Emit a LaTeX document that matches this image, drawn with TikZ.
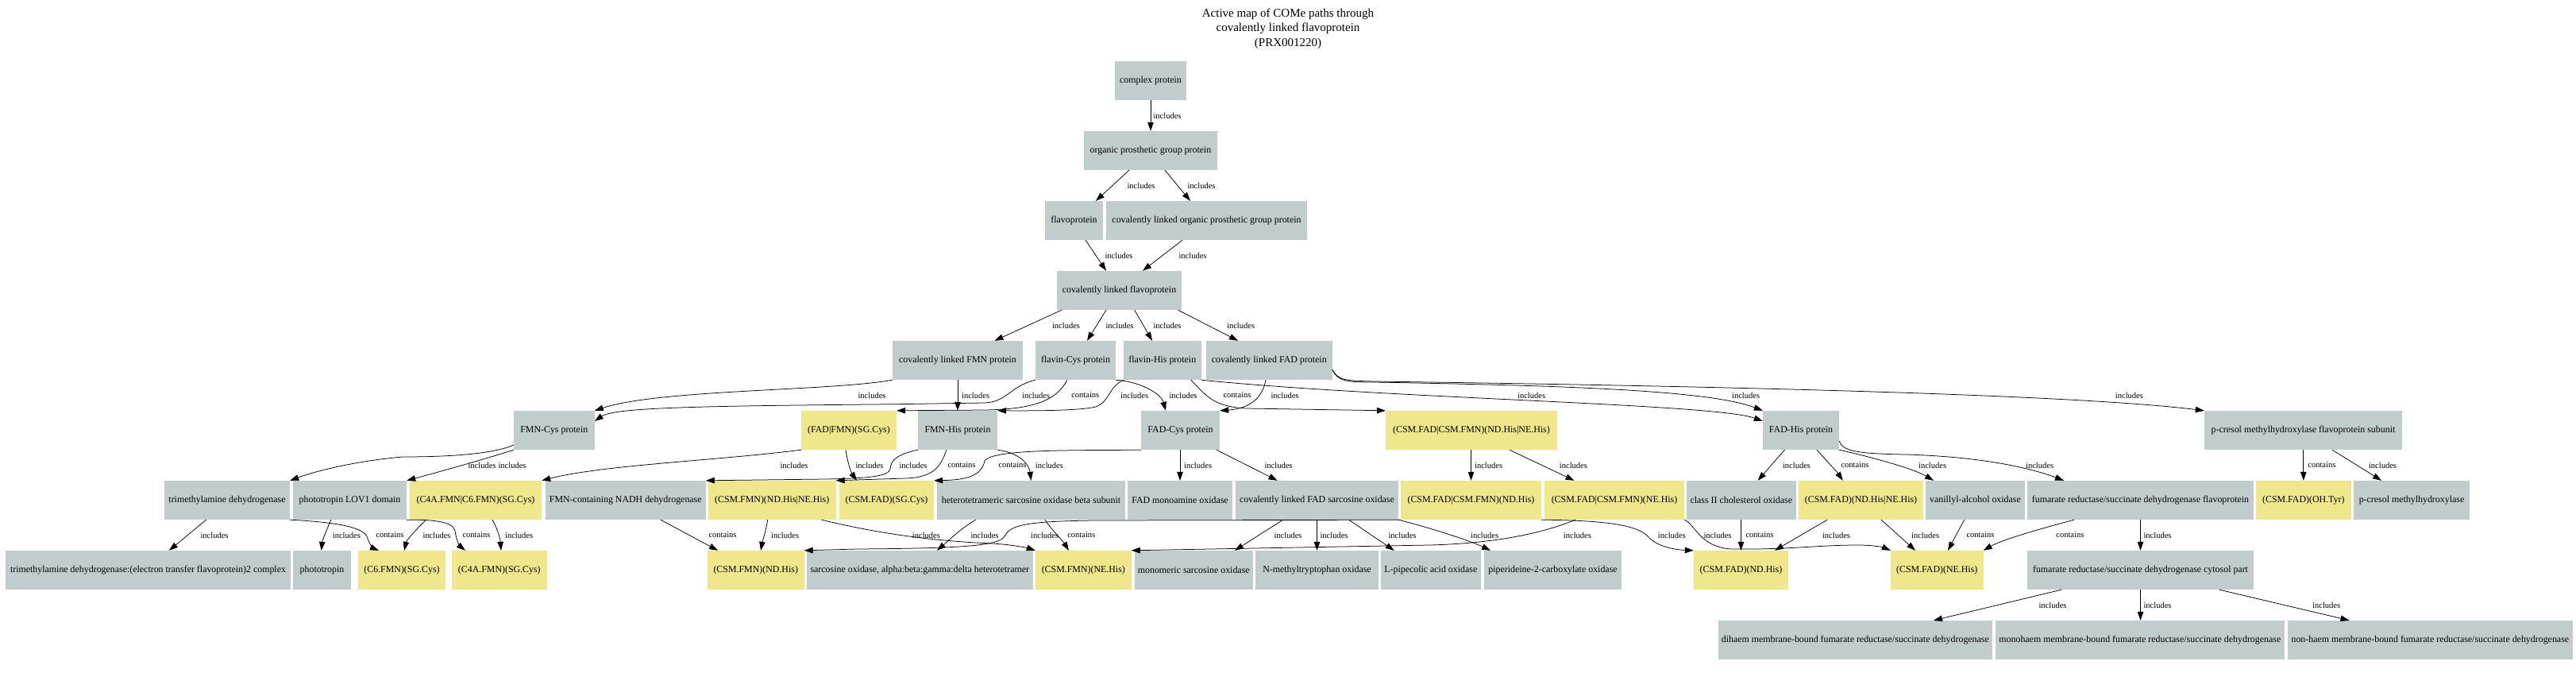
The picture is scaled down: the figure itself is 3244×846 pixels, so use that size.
\documentclass[tikz,border=0pt]{standalone}
\usepackage{fontspec}
\setmainfont{Liberation Serif}
\usetikzlibrary{arrows.meta}
\definecolor{gcol}{HTML}{C1CDCD}
\definecolor{ycol}{HTML}{F0E68C}
\newcommand\nfnt{\fontsize{11.9}{14}\selectfont}
\newcommand\lfnt{\fontsize{10.5}{12}\selectfont}
\begin{document}
\begin{tikzpicture}[x=1pt,y=-1pt,
  nd/.style={rectangle,inner sep=0pt,minimum height=49pt,font=\nfnt},
  gn/.style={nd,fill=gcol},
  yn/.style={nd,fill=ycol},
  edg/.style={draw=black,line width=0.75pt,-{Triangle[length=11pt,width=7.5pt]}},
  elab/.style={font=\lfnt,inner sep=0pt}]
\fill[white] (0,0) rectangle (3244,846);
\useasboundingbox (0,0) rectangle (3244,846);
\node[font=\fontsize{15}{18.5}\selectfont,align=center] (title) at (1622,36) {Active map of COMe paths through\\covalently linked flavoprotein\\(PRX001220)};
% row 0-3
\node[gn,minimum width=90pt] (cp) at (1449,101.5) {complex protein};
\node[gn,minimum width=168pt] (opg) at (1449,189.5) {organic prosthetic group protein};
\node[gn,minimum width=73pt] (fp) at (1352.5,277.5) {flavoprotein};
\node[gn,minimum width=253pt] (clopg) at (1519.5,277.5) {covalently linked organic prosthetic group protein};
\node[gn,minimum width=157pt] (clf) at (1409.5,365.5) {covalently linked flavoprotein};
% row 4
\node[gn,minimum width=164pt] (clFMN) at (1206,453.5) {covalently linked FMN protein};
\node[gn,minimum width=101pt] (fCys) at (1354.5,453.5) {flavin-Cys protein};
\node[gn,minimum width=97.5pt] (fHis) at (1463.75,453.5) {flavin-His protein};
\node[gn,minimum width=158.5pt] (clFAD) at (1598.25,453.5) {covalently linked FAD protein};
% row 5
\node[gn,minimum width=101.6pt] (FMNCys) at (697.8,541.5) {FMN-Cys protein};
\node[yn,minimum width=120pt] (FADFMNSG) at (1069,541.5) {(FAD|FMN)(SG.Cys)};
\node[gn,minimum width=100pt] (FMNHis) at (1206,541.5) {FMN-His protein};
\node[gn,minimum width=99pt] (FADCys) at (1486.5,541.5) {FAD-Cys protein};
\node[yn,minimum width=216pt] (CSMboth) at (1853,541.5) {(CSM.FAD|CSM.FMN)(ND.His|NE.His)};
\node[gn,minimum width=96pt] (FADHis) at (2268,541.5) {FAD-His protein};
\node[gn,minimum width=249pt] (pcs) at (2900.5,541.5) {p-cresol methylhydroxylase flavoprotein subunit};
% row 6
\node[gn,minimum width=158pt] (tmadh) at (286,629.5) {trimethylamine dehydrogenase};
\node[gn,minimum width=143pt] (lov1) at (440.5,629.5) {phototropin LOV1 domain};
\node[yn,minimum width=166pt] (c4ac6) at (599,629.5) {(C4A.FMN|C6.FMN)(SG.Cys)};
\node[gn,minimum width=201.6pt] (nadh) at (787.8,629.5) {FMN-containing NADH dehydrogenase};
\node[yn,minimum width=160.5pt] (csmfmnNN) at (972.25,629.5) {(CSM.FMN)(ND.His|NE.His)};
\node[yn,minimum width=119pt] (csmfadSG) at (1116.5,629.5) {(CSM.FAD)(SG.Cys)};
\node[gn,minimum width=237pt] (hetbeta) at (1298.5,629.5) {heterotetrameric sarcosine oxidase beta subunit};
\node[gn,minimum width=132pt] (fadmao) at (1486,629.5) {FAD monoamine oxidase};
\node[gn,minimum width=205pt] (clfadso) at (1658.5,629.5) {covalently linked FAD sarcosine oxidase};
\node[yn,minimum width=177pt] (bothND) at (1852.5,629.5) {(CSM.FAD|CSM.FMN)(ND.His)};
\node[yn,minimum width=176pt] (bothNE) at (2033,629.5) {(CSM.FAD|CSM.FMN)(NE.His)};
\node[gn,minimum width=138.4pt] (chol) at (2192.8,629.5) {class II cholesterol oxidase};
\node[yn,minimum width=157pt] (csmfadNN) at (2343.5,629.5) {(CSM.FAD)(ND.His|NE.His)};
\node[gn,minimum width=125pt] (van) at (2487.5,629.5) {vanillyl-alcohol oxidase};
\node[gn,minimum width=285pt] (frflavo) at (2695.5,629.5) {fumarate reductase/succinate dehydrogenase flavoprotein};
\node[yn,minimum width=119.6pt] (oht) at (2900.8,629.5) {(CSM.FAD)(OH.Tyr)};
\node[gn,minimum width=146pt] (pcm) at (3037,629.5) {p-cresol methylhydroxylase};
% row 7
\node[gn,minimum width=359pt] (tmcomplex) at (186.5,717.5) {trimethylamine dehydrogenase:(electron transfer flavoprotein)2 complex};
\node[gn,minimum width=73pt] (phot) at (405.5,717.5) {phototropin};
\node[yn,minimum width=110pt] (c6) at (506,717.5) {(C6.FMN)(SG.Cys)};
\node[yn,minimum width=119.6pt] (c4a) at (628.8,717.5) {(C4A.FMN)(SG.Cys)};
\node[yn,minimum width=121.5pt] (fmnND) at (951.75,717.5) {(CSM.FMN)(ND.His)};
\node[gn,minimum width=284.7pt] (hetero) at (1158.35,717.5) {sarcosine oxidase, alpha:beta:gamma:delta heterotetramer};
\node[yn,minimum width=120.6pt] (fmnNE) at (1364.3,717.5) {(CSM.FMN)(NE.His)};
\node[gn,minimum width=148.5pt] (monoso) at (1503.25,717.5) {monomeric sarcosine oxidase};
\node[gn,minimum width=155pt] (nmt) at (1658.5,717.5) {N-methyltryptophan oxidase};
\node[gn,minimum width=125.6pt] (lpa) at (1801.8,717.5) {L-pipecolic acid oxidase};
\node[gn,minimum width=173pt] (pip) at (1955.5,717.5) {piperideine-2-carboxylate oxidase};
\node[yn,minimum width=119pt] (fadND) at (2192.5,717.5) {(CSM.FAD)(ND.His)};
\node[yn,minimum width=116.5pt] (fadNE) at (2439.25,717.5) {(CSM.FAD)(NE.His)};
\node[gn,minimum width=285pt] (cyt) at (2695.5,717.5) {fumarate reductase/succinate dehydrogenase cytosol part};
% row 8
\node[gn,minimum width=344.6pt] (dih) at (2336.3,805.5) {dihaem membrane-bound fumarate reductase/succinate dehydrogenase};
\node[gn,minimum width=363.6pt] (mono) at (2694.8,805.5) {monohaem membrane-bound fumarate reductase/succinate dehydrogenase};
\node[gn,minimum width=358.6pt] (nonh) at (3060.3,805.5) {non-haem membrane-bound fumarate reductase/succinate dehydrogenase};
% edges rows 0-4
\draw[edg] (cp) -- (opg) node[elab] at (1470,145.5) {includes};
\draw[edg] ([xshift=-27pt]opg.south) -- ([xshift=27.5pt]fp.north) node[elab] at (1437,233.5) {includes};
\draw[edg] ([xshift=18pt]opg.south) -- ([xshift=-20.5pt]clopg.north) node[elab] at (1513,233.5) {includes};
\draw[edg] ([xshift=14.5pt]fp.south) -- ([xshift=-16.5pt]clf.north) node[elab] at (1409,321.5) {includes};
\draw[edg] ([xshift=-30.5pt]clopg.south) -- ([xshift=29.5pt]clf.north) node[elab] at (1502,321.5) {includes};
\draw[edg] ([xshift=-72.5pt]clf.south) -- ([xshift=46.5pt]clFMN.north) node[elab] at (1342.5,409.5) {includes};
\draw[edg] ([xshift=-16.5pt]clf.south) -- ([xshift=14.5pt]fCys.north) node[elab] at (1410,409.5) {includes};
\draw[edg] ([xshift=19.2pt]clf.south) -- ([xshift=-12.75pt]fHis.north) node[elab] at (1470,409.5) {includes};
\draw[edg] ([xshift=74pt]clf.south) -- ([xshift=-39.25pt]clFAD.north) node[elab] at (1562.6,409.5) {includes};
% edges rows 4-5
\draw[edg] (clFMN.south west) .. controls (1050,492) and (830,490) .. (FMNCys.north east) node[elab] at (1098,497.5) {includes};
\draw[edg] (clFMN.south) -- (FMNHis.north) node[elab] at (1228.6,497.5) {includes};
\draw[edg] (fCys.south west) .. controls (1272,486) and (1268,506) .. (1240,507) -- (1135,508.6) .. controls (900,511) and (775,512) .. ([yshift=11.5pt]FMNCys.east) node[elab] at (1304.6,497.5) {includes};
\draw[edg] ([xshift=-10.5pt]fCys.south) .. controls (1330,505) and (1300,515) .. (1240,516) -- (FADFMNSG.north east) node[elab] at (1366.8,497.5) {contains};
\draw[edg] (fHis.south west) .. controls (1395,488) and (1398,505) .. (1380,512) .. controls (1360,517) and (1300,517) .. (FMNHis.north east) node[elab] at (1428.6,497.5) {includes};
\draw[edg] (fCys.south east) .. controls (1435,480) and (1462,495) .. ([xshift=-18.5pt]FADCys.north) node[elab] at (1490,497.5) {includes};
\draw[edg] ([xshift=36.25pt]fHis.south) .. controls (1520,500) and (1530,512) .. (1570,514) -- (CSMboth.north west) node[elab] at (1558,497.5) {contains};
\draw[edg] ([xshift=-4.25pt]clFAD.south) .. controls (1590,500) and (1575,514) .. (FADCys.north east) node[elab] at (1618,497.5) {includes};
\draw[edg] (fHis.south east) .. controls (1750,502) and (2160,508) .. ([yshift=11.5pt]FADHis.west) node[elab] at (1928.6,497.5) {includes};
\draw[edg] ([yshift=-11.5pt]clFAD.east) .. controls (1685,480) and (1695,481) .. (1730,481) .. controls (1950,485) and (2150,490) .. (FADHis.north west) node[elab] at (2198.6,497.5) {includes};
\draw[edg] ([yshift=-11.5pt]clFAD.east) .. controls (1685,479) and (1695,479) .. (1730,480) .. controls (2100,485) and (2600,495) .. (pcs.north west) node[elab] at (2681.4,497.5) {includes};
% edges rows 5-6
\draw[edg] ([yshift=-18.5pt]FMNCys.west) .. controls (620,572) and (560,575) .. (507,575) .. controls (450,580) and (400,592) .. (tmadh.north east) node[elab] at (607,585.5) {includes};
\draw[edg] (FMNCys.south west) .. controls (620,575) and (560,592) .. (lov1.north east) node[elab] at (645,585.5) {includes};
\draw[edg] (FADFMNSG.south west) .. controls (900,580) and (760,585) .. (c4ac6.north east) node[elab] at (1000,585.5) {includes};
\draw[edg] ([xshift=-4pt]FADFMNSG.south) .. controls (1068,585) and (1072,595) .. ([xshift=-37.5pt]csmfadSG.north) node[elab] at (1095,585.5) {includes};
\draw[edg] (FMNHis.south west) .. controls (1128,572) and (1122,580) .. (1121,590) .. controls (1120,600) and (1090,602) .. (1040,603) -- (nadh.north east) node[elab] at (1150,585.5) {includes};
\draw[edg] ([xshift=-14pt]FMNHis.south) .. controls (1185,585) and (1178,601) .. (1140,602) -- (csmfmnNN.north east) node[elab] at (1211,585.5) {contains};
\draw[edg] (FADCys.south west) .. controls (1350,567) and (1250,565) .. (1240,580) .. controls (1236,600) and (1215,604) .. (csmfadSG.north east) node[elab] at (1275,585.5) {contains};
\draw[edg] (FMNHis.south east) .. controls (1285,570) and (1296,585) .. (hetbeta.north) node[elab] at (1321.4,585.5) {includes};
\draw[edg] (fadmao.north |- FADCys.south) -- (fadmao.north) node[elab] at (1508.6,585.5) {includes};
\draw[edg] ([xshift=45.5pt]FADCys.south) -- ([xshift=-49.9pt]clfadso.north) node[elab] at (1610,585.5) {includes};
\draw[edg] (bothND.north |- CSMboth.south) -- (bothND.north) node[elab] at (1874.6,585.5) {includes};
\draw[edg] ([xshift=48pt]CSMboth.south) -- ([xshift=-50.5pt]bothNE.north) node[elab] at (1981.4,585.5) {includes};
\draw[edg] ([xshift=-20.5pt]FADHis.south) .. controls (2235,580) and (2225,592) .. ([xshift=20.8pt]chol.north) node[elab] at (2262.5,585.5) {includes};
\draw[edg] ([xshift=20pt]FADHis.south) .. controls (2300,580) and (2312,592) .. ([xshift=-22.8pt]csmfadNN.north) node[elab] at (2336,585.5) {contains};
\draw[edg] (FADHis.south east) .. controls (2360,576) and (2410,590) .. ([xshift=-52.5pt]van.north) node[elab] at (2433.6,585.5) {includes};
\draw[edg] ([yshift=-13.5pt]FADHis.east) .. controls (2320,568) and (2340,571) .. (2400,572) .. controls (2500,575) and (2560,590) .. ([xshift=-96.5pt]frflavo.north) node[elab] at (2568.6,585.5) {includes};
\draw[edg] (oht.north |- pcs.south) -- (oht.north) node[elab] at (2923.8,585.5) {contains};
\draw[edg] ([xshift=36.5pt]pcs.south) -- ([xshift=-38pt]pcm.north) node[elab] at (3000.5,585.5) {includes};
% edges rows 6-7
\draw[edg] ([xshift=-26.4pt]tmadh.south) -- ([xshift=26.5pt]tmcomplex.north) node[elab] at (270,673.5) {includes};
\draw[edg] ([xshift=-23.7pt]lov1.south) .. controls (410,670) and (406,680) .. ([xshift=-0.9pt]phot.north) node[elab] at (436.4,673.5) {includes};
\draw[edg] (tmadh.south east) .. controls (400,656) and (455,660) .. (462,675) .. controls (465,685) and (470,690) .. ([xshift=-29pt]c6.north) node[elab] at (491,673.5) {contains};
\draw[edg] ([xshift=-62.2pt]c4ac6.south) .. controls (525,665) and (512,680) .. ([xshift=3pt]c6.north) node[elab] at (550,673.5) {includes};
\draw[edg] (lov1.south east) .. controls (545,654) and (570,656) .. (573,668) .. controls (575,682) and (580,688) .. ([xshift=-42.8pt]c4a.north) node[elab] at (600,673.5) {contains};
\draw[edg] ([xshift=21pt]c4ac6.south) .. controls (628,668) and (630,680) .. ([xshift=2.2pt]c4a.north) node[elab] at (653.6,673.5) {includes};
\draw[edg] ([xshift=44.2pt]nadh.south) -- ([xshift=-47.75pt]fmnND.north) node[elab] at (910,673.5) {contains};
\draw[edg] ([xshift=-5.45pt]csmfmnNN.south) .. controls (964,670) and (960,682) .. ([xshift=6.25pt]fmnND.north) node[elab] at (988.6,673.5) {includes};
\draw[edg] ([xshift=62.35pt]csmfmnNN.south) .. controls (1080,665) and (1150,680) .. (1250,684) .. controls (1280,686) and (1295,690) .. (fmnNE.north west) node[elab] at (1166.4,673.5) {includes};
\draw[edg] ([xshift=-69.9pt]hetbeta.south) .. controls (1210,665) and (1195,680) .. ([xshift=21.65pt]hetero.north) node[elab] at (1240,673.5) {includes};
\draw[edg] ([xshift=17.5pt]hetbeta.south) .. controls (1325,668) and (1338,680) .. ([xshift=-18.3pt]fmnNE.north) node[elab] at (1361.8,673.5) {contains};
\draw[edg] (bothND.south west) -- (1380,655) .. controls (1285,656) and (1272,662) .. (1265,675) .. controls (1258,688) and (1200,690) .. (1080,691) -- (fmnND.north east) node[elab] at (1315.7,673.5) {includes};
\draw[edg] ([xshift=-42.8pt]clfadso.south) -- ([xshift=51.75pt]monoso.north) node[elab] at (1622,673.5) {includes};
\draw[edg] (clfadso.south) -- (nmt.north) node[elab] at (1680,673.5) {includes};
\draw[edg] ([xshift=40.1pt]clfadso.south) -- ([xshift=-46.1pt]lpa.north) node[elab] at (1766,673.5) {includes};
\draw[edg] (clfadso.south east) .. controls (1800,664) and (1850,680) .. ([xshift=-78.5pt]pip.north) node[elab] at (1869.6,673.5) {includes};
\draw[edg] (bothND.south east) .. controls (2030,655) and (2065,662) .. (2077,677) .. controls (2088,688) and (2110,692) .. (fadND.north west) node[elab] at (2105.4,673.5) {includes};
\draw[edg] ([xshift=-49pt]bothNE.south) .. controls (1940,672) and (1880,684) .. (1800,686) -- (fmnNE.north east) node[elab] at (1986.4,673.5) {includes};
\draw[edg] (bothNE.south east) .. controls (2135,660) and (2140,688) .. (2180,691) .. controls (2250,692) and (2290,686) .. (2340,686) .. controls (2360,686) and (2372,689) .. (fadNE.north west) node[elab] at (2163,673.5) {includes};
\draw[edg] (fadND.north |- chol.south) -- (fadND.north) node[elab] at (2216,673.5) {contains};
\draw[edg] ([xshift=-42.5pt]csmfadNN.south) -- ([xshift=42.5pt]fadND.north) node[elab] at (2312.5,673.5) {includes};
\draw[edg] ([xshift=25.5pt]csmfadNN.south) -- ([xshift=-27.25pt]fadNE.north) node[elab] at (2424.6,673.5) {includes};
\draw[edg] ([xshift=-13.9pt]van.south) -- ([xshift=13.75pt]fadNE.north) node[elab] at (2494,673.5) {contains};
\draw[edg] ([xshift=-83.7pt]frflavo.south) .. controls (2560,668) and (2520,680) .. (fadNE.north east) node[elab] at (2606.8,673.5) {contains};
\draw[edg] (frflavo.south) -- (cyt.north) node[elab] at (2717,673.5) {includes};
% edges rows 7-8
\draw[edg] ([xshift=-99.5pt]cyt.south) -- ([xshift=98.7pt]dih.north) node[elab] at (2585,761.5) {includes};
\draw[edg] (cyt.south) -- (cyt.south |- mono.north) node[elab] at (2717,761.5) {includes};
\draw[edg] ([xshift=99.5pt]cyt.south) -- ([xshift=-101.8pt]nonh.north) node[elab] at (2929.7,761.5) {includes};
\end{tikzpicture}
\end{document}
